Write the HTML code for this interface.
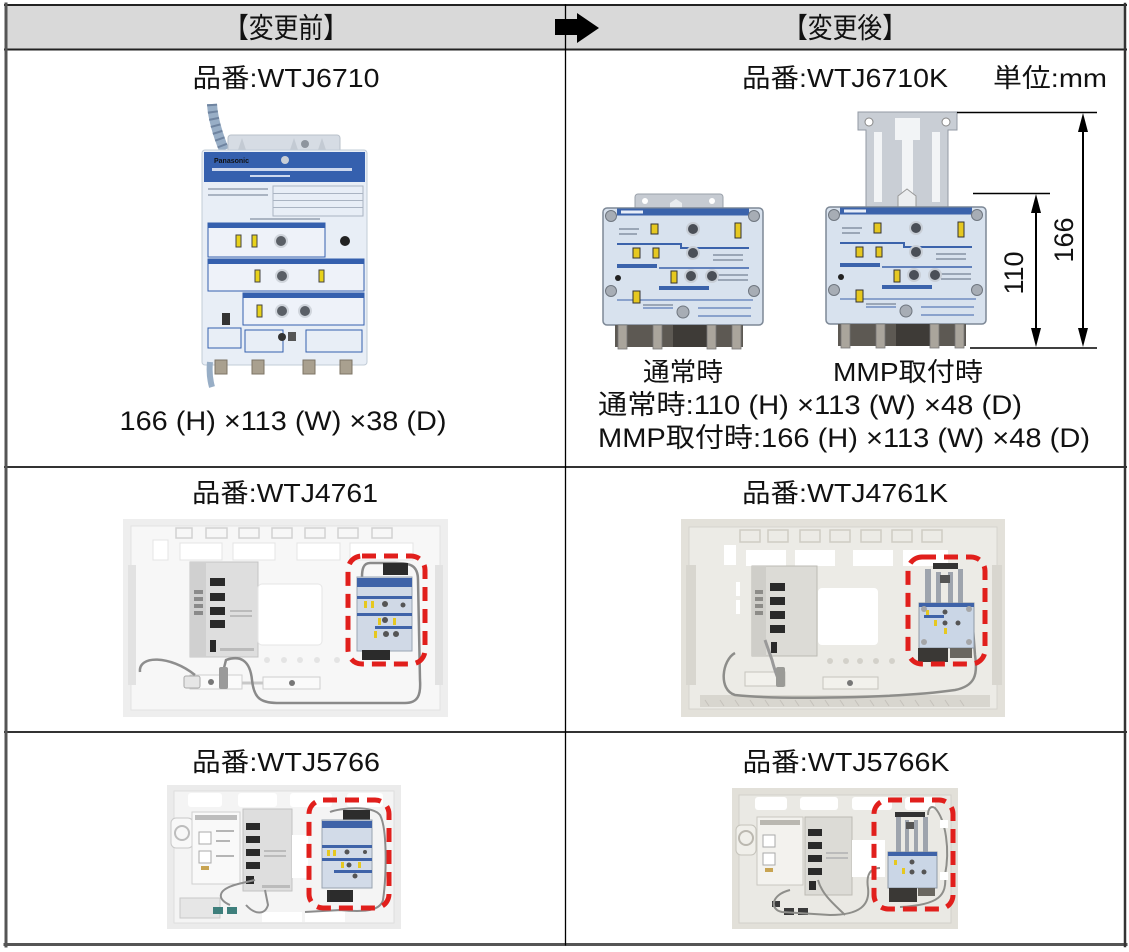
<!DOCTYPE html>
<html><head><meta charset="utf-8">
<style>
html,body{margin:0;padding:0;background:#fff;}
svg{display:block;}
text{font-family:"Liberation Sans","Noto Sans CJK JP",sans-serif;fill:#111;}
</style></head><body>
<svg width="1129" height="952" viewBox="0 0 1129 952" xmlns="http://www.w3.org/2000/svg">
<defs>
 <g id="ampface">
  <rect x="0" y="0" width="160" height="117" rx="4" fill="#d8e2ee" stroke="#7d8896" stroke-width="1.5"/>
  <rect x="14" y="0.5" width="132" height="7" fill="#3b63ab"/>
  <rect x="18" y="2.5" width="22" height="3" fill="#e8eef8"/>
  <path d="M14 36 H78 V40 H146" stroke="#3b63ab" stroke-width="2" fill="none"/>
  <rect x="14" y="56" width="40" height="4" fill="#3b63ab"/>
  <path d="M56 60 H146" stroke="#3b63ab" stroke-width="1.5" fill="none"/>
  <rect x="56" y="78" width="50" height="4" fill="#3b63ab"/>
  <path d="M14 92 H150 M40 100 H70 M95 100 H148 M95 108 H148" stroke="#3b63ab" stroke-width="1" fill="none"/>
  <g fill="#9aa6b6"><rect x="16" y="20" width="20" height="2"/><rect x="16" y="25" width="18" height="2"/><rect x="110" y="46" width="30" height="2"/><rect x="110" y="51" width="30" height="2"/><rect x="115" y="66" width="30" height="2"/><rect x="115" y="71" width="30" height="2"/><rect x="40" y="96" width="30" height="2"/></g>
  <g fill="#e6c820" stroke="#333" stroke-width="1">
   <rect x="48" y="16" width="7" height="10"/><rect x="132" y="15" width="6" height="15"/>
   <rect x="30" y="40" width="7" height="10"/><rect x="50" y="40" width="6" height="10"/>
   <rect x="68" y="63" width="6" height="12"/><rect x="30" y="83" width="7" height="12"/>
  </g>
  <g fill="#4a4f57" stroke="#c8ced6" stroke-width="2">
   <circle cx="90" cy="21" r="6"/><circle cx="90" cy="45" r="6"/><circle cx="88" cy="68" r="6"/><circle cx="109" cy="68" r="6"/>
  </g>
  <circle cx="15" cy="70" r="3" fill="#222"/>
  <g fill="#a7adb5" stroke="#6f767f" stroke-width="1">
   <circle cx="8" cy="8" r="5.5"/><circle cx="151" cy="8" r="5.5"/><circle cx="8" cy="83" r="5.5"/><circle cx="151" cy="83" r="5.5"/><circle cx="80" cy="104" r="6"/>
  </g>
  <rect x="12" y="117" width="128" height="22" fill="#5d5953"/>
  <rect x="70" y="117" width="40" height="22" fill="#3e3b37"/>
  <g fill="#aaa59c" stroke="#777" stroke-width="0.8">
   <rect x="15" y="117" width="9" height="24"/><rect x="50" y="117" width="9" height="24"/><rect x="104" y="117" width="9" height="24"/><rect x="129" y="117" width="9" height="24"/>
  </g>
 </g>
</defs>

<rect x="0" y="0" width="1129" height="952" fill="#fff"/>

<!-- header -->
<rect x="6" y="5" width="1119" height="44" fill="#d9d9d9"/>
<text x="286" y="28" font-size="28" text-anchor="middle" dominant-baseline="central" textLength="124" lengthAdjust="spacingAndGlyphs">【変更前】</text>
<text x="845" y="28" font-size="28" text-anchor="middle" dominant-baseline="central" textLength="124" lengthAdjust="spacingAndGlyphs">【変更後】</text>

<!-- table lines -->
<g stroke-linecap="square">
 <line x1="5" y1="5" x2="1126" y2="5" stroke="#222" stroke-width="2"/>
 <line x1="5" y1="49.5" x2="1126" y2="49.5" stroke="#222" stroke-width="2"/>
 <line x1="5" y1="467" x2="1126" y2="467" stroke="#333" stroke-width="2"/>
 <line x1="5" y1="732" x2="1126" y2="732" stroke="#333" stroke-width="2"/>
 <line x1="5" y1="944.5" x2="1126" y2="944.5" stroke="#555" stroke-width="3"/>
 <line x1="6" y1="4" x2="6" y2="946" stroke="#555" stroke-width="3"/>
 <line x1="1125" y1="4" x2="1125" y2="946" stroke="#333" stroke-width="2.5"/>
 <line x1="565.5" y1="5" x2="565.5" y2="945" stroke="#000" stroke-width="1.3"/>
</g>

<!-- arrow -->
<path d="M555 19 H577 V13 L599 28 L577 43 V35 H555 Z" fill="#000"/>

<!-- ROW 1 texts -->
<text x="286" y="78" font-size="26" text-anchor="middle" dominant-baseline="central" textLength="187" lengthAdjust="spacingAndGlyphs">品番:WTJ6710</text>
<text x="283" y="421" font-size="27" text-anchor="middle" dominant-baseline="central" textLength="327" lengthAdjust="spacingAndGlyphs">166 (H) ×113 (W) ×38 (D)</text>
<text x="845" y="78" font-size="26" text-anchor="middle" dominant-baseline="central" textLength="206" lengthAdjust="spacingAndGlyphs">品番:WTJ6710K</text>
<text x="1050" y="78" font-size="26" text-anchor="middle" dominant-baseline="central" textLength="114" lengthAdjust="spacingAndGlyphs">単位:mm</text>
<text x="683" y="372" font-size="26" text-anchor="middle" dominant-baseline="central" textLength="80" lengthAdjust="spacingAndGlyphs">通常時</text>
<text x="908" y="372" font-size="26" text-anchor="middle" dominant-baseline="central" textLength="150" lengthAdjust="spacingAndGlyphs">MMP取付時</text>
<text x="598" y="405" font-size="27" dominant-baseline="central" textLength="424" lengthAdjust="spacingAndGlyphs">通常時:110 (H) ×113 (W) ×48 (D)</text>
<text x="598" y="438" font-size="27" dominant-baseline="central" textLength="492" lengthAdjust="spacingAndGlyphs">MMP取付時:166 (H) ×113 (W) ×48 (D)</text>

<!-- ROW 1 left device -->
<g>
 <path d="M212 104 C213 120 218 135 224 150" stroke="#98aec6" stroke-width="10" fill="none"/>
 <path d="M212 104 C213 120 218 135 224 150" stroke="#6f84a0" stroke-width="10" fill="none" stroke-dasharray="2 5"/>
 <rect x="228" y="135" width="112" height="18" rx="3" fill="#d6dce4" stroke="#b8c0ca"/>
 <g fill="#c3cad3"><path d="M238 150 L242 138 L246 150Z"/><path d="M290 150 L294 138 L298 150Z"/><path d="M318 150 L322 138 L326 150Z"/></g>
 <circle cx="305" cy="144" r="4" fill="#8e959e"/>
 <rect x="202" y="150" width="165" height="215" rx="3" fill="#e8eef6" stroke="#c2ccd7"/>
 <rect x="204" y="152" width="161" height="30" fill="#3560ae"/>
 <text x="214" y="163" font-size="7" font-weight="bold" fill="#fff">Panasonic</text>
 <circle cx="285" cy="160" r="4" fill="#c9ced6"/>
 <rect x="212" y="168" width="140" height="3" fill="#cdd8ee"/>
 <rect x="250" y="175" width="40" height="2" fill="#cdd8ee"/>
 <g fill="#aab4c2"><rect x="208" y="188" width="60" height="2"/><rect x="208" y="194" width="60" height="2"/><rect x="273" y="186" width="90" height="30" fill="none" stroke="#aab4c2"/><rect x="273" y="193" width="90" height="1"/><rect x="273" y="200" width="90" height="1"/><rect x="273" y="207" width="90" height="1"/><rect x="250" y="218" width="70" height="2"/></g>
 <rect x="208" y="223" width="117" height="34" fill="#eef2f9" stroke="#3560ae"/>
 <rect x="208" y="223" width="117" height="5" fill="#3560ae"/>
 <rect x="208" y="259" width="156" height="32" fill="#eef2f9" stroke="#3560ae"/>
 <rect x="208" y="259" width="156" height="5" fill="#3560ae"/>
 <rect x="243" y="293" width="121" height="32" fill="#eef2f9" stroke="#3560ae"/>
 <rect x="243" y="293" width="121" height="5" fill="#3560ae"/>
 <g fill="#e8d21a" stroke="#444" stroke-width="1">
  <rect x="236" y="235" width="5" height="12"/><rect x="252" y="235" width="5" height="12"/>
  <rect x="255" y="270" width="5" height="12"/><rect x="319" y="270" width="5" height="12"/>
  <rect x="257" y="305" width="5" height="12"/>
 </g>
 <g fill="#5a5f66" stroke="#d0d5dc" stroke-width="2">
  <circle cx="281" cy="241" r="6"/><circle cx="282" cy="276" r="6"/><circle cx="282" cy="311" r="6"/><circle cx="305" cy="311" r="6"/>
 </g>
 <circle cx="345" cy="241" r="5" fill="#222"/>
 <rect x="222" y="313" width="8" height="12" fill="#333"/>
 <rect x="208" y="328" width="33" height="20" fill="none" stroke="#3560ae"/>
 <rect x="245" y="330" width="38" height="22" fill="none" stroke="#3560ae"/>
 <circle cx="282" cy="337" r="4" fill="#333"/>
 <rect x="288" y="332" width="8" height="9" fill="#555"/>
 <rect x="306" y="330" width="56" height="22" fill="none" stroke="#3560ae"/>
 <g fill="#a9a08f" stroke="#7d7466"><rect x="215" y="360" width="12" height="14"/><rect x="252" y="360" width="12" height="14"/><rect x="303" y="360" width="12" height="14"/><rect x="340" y="360" width="12" height="14"/></g>
 <path d="M210 362 C209 372 210 380 212 387" stroke="#98aec6" stroke-width="6" fill="none"/>
</g>

<!-- ROW 1 right devices -->
<g>
 <rect x="635" y="194" width="88" height="18" rx="3" fill="#c6cbd2" stroke="#9aa1aa"/>
 <circle cx="645" cy="201" r="3" fill="#fff"/><circle cx="712" cy="201" r="3" fill="#fff"/>
 <path d="M670 212 V203 L676 199 L682 203 V212" fill="#e9ecef"/>
 <use href="#ampface" transform="translate(603,208)"/>
</g>
<g>
 <path d="M858 112 H957 V130 H948 V207 H866 V130 H858 Z" fill="#c9ced5" stroke="#939aa4"/>
 <circle cx="869" cy="122" r="4" fill="#fff" stroke="#888"/><circle cx="946" cy="122" r="4" fill="#fff" stroke="#888"/>
 <rect x="874" y="132" width="8" height="70" fill="#f2f4f6"/>
 <rect x="932" y="132" width="8" height="70" fill="#f2f4f6"/>
 <path d="M895 118 H920 V140 H913 V200 H902 V140 H895 Z" fill="#f2f4f6"/>
 <path d="M898 207 V196 L907 189 L916 196 V207" fill="#eceef0" stroke="#999"/>
 <use href="#ampface" transform="translate(826,207)"/>
</g>
<!-- dimension lines -->
<g stroke="#000">
 <line x1="957" y1="112.5" x2="1097" y2="112.5" stroke-width="1.5"/>
 <line x1="970" y1="348" x2="1097" y2="348" stroke-width="1.5"/>
 <line x1="973" y1="193.5" x2="1050" y2="193.5" stroke-width="1.5"/>
 <line x1="1083" y1="125" x2="1083" y2="335" stroke-width="2"/>
 <line x1="1036" y1="206" x2="1036" y2="335" stroke-width="2"/>
</g>
<g fill="#000">
 <path d="M1083 113 L1078 132 L1088 132 Z"/><path d="M1083 347 L1078 328 L1088 328 Z"/>
 <path d="M1036 194 L1031 213 L1041 213 Z"/><path d="M1036 347 L1031 328 L1041 328 Z"/>
</g>
<text x="0" y="0" font-size="27" text-anchor="middle" dominant-baseline="central" transform="translate(1064,240) rotate(-90)">166</text>
<text x="0" y="0" font-size="27" text-anchor="middle" dominant-baseline="central" transform="translate(1014,273) rotate(-90)">110</text>

<!-- ROW 2 texts -->
<text x="285" y="493" font-size="26" text-anchor="middle" dominant-baseline="central" textLength="186" lengthAdjust="spacingAndGlyphs">品番:WTJ4761</text>
<text x="845" y="493" font-size="26" text-anchor="middle" dominant-baseline="central" textLength="206" lengthAdjust="spacingAndGlyphs">品番:WTJ4761K</text>

<!-- ROW 2 left cabinet -->
<g>
 <rect x="123" y="519" width="325" height="198" fill="#eeeeee"/>
 <rect x="131" y="526" width="309" height="184" fill="#f7f7f7" stroke="#e3e3e3"/>
 <g fill="none" stroke="#d2d2d2" stroke-width="1.5">
  <rect x="176" y="528" width="16" height="10"/><rect x="206" y="528" width="21" height="10"/><rect x="239" y="528" width="20" height="10"/><rect x="272" y="528" width="20" height="10"/><rect x="305" y="528" width="20" height="10"/><rect x="338" y="528" width="20" height="10"/><rect x="372" y="528" width="20" height="10"/>
 </g>
 <g fill="#ffffff" stroke="#e4e4e4"><rect x="153" y="540" width="15" height="20"/><rect x="180" y="543" width="42" height="17"/><rect x="233" y="543" width="42" height="17"/><rect x="297" y="543" width="43" height="17"/><rect x="350" y="543" width="63" height="17"/></g>
 <g fill="#e2e2e2"><rect x="128" y="565" width="8" height="120"/><rect x="435" y="565" width="8" height="120"/></g>
 <rect x="190" y="562" width="68" height="95" fill="#dedede" stroke="#c4c4c4"/>
 <rect x="190" y="562" width="16" height="95" fill="#d0d0d0"/>
 <g fill="#8a8a8a"><rect x="194" y="590" width="9" height="4"/><rect x="194" y="597" width="9" height="4"/><rect x="194" y="604" width="9" height="4"/><rect x="194" y="611" width="9" height="4"/></g>
 <g fill="#2a2a2a"><rect x="210" y="578" width="15" height="8"/><rect x="210" y="593" width="15" height="8"/><rect x="210" y="607" width="15" height="8"/><rect x="210" y="620" width="15" height="8"/><rect x="210" y="640" width="6" height="12"/></g>
 <g fill="#bbb"><rect x="230" y="610" width="22" height="2"/><rect x="230" y="615" width="22" height="2"/><rect x="220" y="648" width="34" height="3"/></g>
 <rect x="258" y="584" width="64" height="61" rx="4" fill="#ffffff" stroke="#e6e6e6"/>
 <g fill="#e4e4e4"><circle cx="267" cy="660" r="3"/><circle cx="284" cy="660" r="3"/><circle cx="300" cy="660" r="3"/><circle cx="317" cy="660" r="3"/><circle cx="337" cy="660" r="3"/></g>
 <rect x="190" y="675" width="52" height="14" fill="#fafafa" stroke="#cfcfcf"/>
 <rect x="263" y="677" width="57" height="12" fill="#fafafa" stroke="#cfcfcf"/>
 <circle cx="292" cy="683" r="3" fill="#777"/><circle cx="211" cy="682" r="3" fill="#777"/>
 <line x1="242" y1="683" x2="263" y2="683" stroke="#c8c8c8" stroke-width="3"/>
 <path d="M140 672 C138 655 170 655 195 675" stroke="#8e8e8e" stroke-width="2.5" fill="none"/>
 <rect x="184" y="676" width="16" height="12" rx="2" fill="#e6e6e6" stroke="#aaa"/>
 <path d="M224 668 L226 660 C240 655 250 660 252 680 C254 700 262 703 280 703 L405 703 C418 703 421 695 420 680 L418 580 C418 565 410 563 395 563 L370 563 C363 563 362 570 362 577" stroke="#8a8a8a" stroke-width="2.5" fill="none"/>
 <rect x="219" y="667" width="9" height="22" rx="2" fill="#9a9a9a"/>
 <rect x="357" y="577" width="55" height="74" fill="#d0d9e6" stroke="#9aa5b3"/>
 <rect x="357" y="578" width="55" height="9" fill="#3f63a8"/>
 <rect x="357" y="596" width="55" height="3" fill="#3f63a8"/>
 <rect x="357" y="613" width="55" height="3" fill="#3f63a8"/>
 <rect x="375" y="626" width="37" height="3" fill="#3f63a8"/>
 <g fill="#e6c820"><rect x="364" y="601" width="3" height="7"/><rect x="371" y="601" width="3" height="7"/><rect x="378" y="618" width="3" height="7"/><rect x="393" y="618" width="3" height="7"/><rect x="374" y="631" width="3" height="7"/></g>
 <g fill="#555"><circle cx="385" cy="604" r="3"/><circle cx="385" cy="620" r="3"/><circle cx="386" cy="634" r="3"/><circle cx="396" cy="634" r="3"/><circle cx="403" cy="605" r="2.5"/></g>
 <rect x="383" y="563" width="25" height="12" fill="#2b2b2b"/>
 <rect x="362" y="650" width="28" height="10" fill="#2b2b2b"/>
 <rect x="348" y="556" width="77" height="108" rx="14" fill="none" stroke="#e11f1c" stroke-width="5" stroke-dasharray="14 8"/>
</g>

<!-- ROW 2 right cabinet -->
<g>
 <rect x="681" y="519" width="324" height="198" fill="#e3e1da"/>
 <rect x="689" y="527" width="308" height="182" fill="#ecebe6" stroke="#d6d4cd"/>
 <g fill="none" stroke="#cfccc4" stroke-width="1.5">
  <rect x="740" y="530" width="20" height="12"/><rect x="768" y="530" width="20" height="12"/><rect x="800" y="530" width="20" height="12"/><rect x="830" y="530" width="20" height="12"/><rect x="861" y="530" width="20" height="12"/><rect x="892" y="530" width="20" height="12"/><rect x="922" y="530" width="20" height="12"/>
 </g>
 <g fill="#ffffff"><rect x="724" y="545" width="12" height="20"/><rect x="746" y="550" width="40" height="16"/><rect x="795" y="550" width="40" height="16"/><rect x="853" y="550" width="40" height="16"/><rect x="903" y="550" width="45" height="16"/></g>
 <g fill="#d8d6cf"><rect x="686" y="565" width="10" height="120"/><rect x="992" y="565" width="10" height="120"/><rect x="700" y="695" width="290" height="12"/></g>
 <g stroke="#c5c2ba" stroke-width="1"><path d="M705 700 l4 6 M720 700 l4 6 M735 700 l4 6 M750 700 l4 6 M765 700 l4 6 M780 700 l4 6 M795 700 l4 6 M810 700 l4 6 M825 700 l4 6 M840 700 l4 6 M855 700 l4 6 M870 700 l4 6 M885 700 l4 6 M900 700 l4 6 M915 700 l4 6 M930 700 l4 6 M945 700 l4 6 M960 700 l4 6"/></g>
 <g fill="#ffffff"><rect x="736" y="582" width="4" height="14"/><rect x="736" y="600" width="4" height="14"/><rect x="756" y="582" width="4" height="14"/></g>
 <rect x="752" y="566" width="65" height="90" fill="#dcdbd6" stroke="#bdbbb4"/>
 <rect x="752" y="566" width="14" height="90" fill="#cfcec9"/>
 <g fill="#2a2a2a"><rect x="770" y="583" width="15" height="8"/><rect x="770" y="597" width="15" height="8"/><rect x="770" y="611" width="15" height="8"/><rect x="770" y="625" width="15" height="8"/><rect x="771" y="642" width="6" height="11"/></g>
 <g fill="#8d8c88"><rect x="755" y="590" width="8" height="4"/><rect x="755" y="597" width="8" height="4"/><rect x="755" y="604" width="8" height="4"/><rect x="755" y="611" width="8" height="4"/></g>
 <rect x="818" y="588" width="60" height="57" rx="4" fill="#ffffff"/>
 <g fill="#d3d1ca"><circle cx="830" cy="661" r="3"/><circle cx="846" cy="661" r="3"/><circle cx="860" cy="661" r="3"/><circle cx="876" cy="661" r="3"/><circle cx="892" cy="661" r="3"/></g>
 <rect x="745" y="672" width="40" height="14" fill="#f2f1ec" stroke="#c6c4bd"/>
 <rect x="823" y="677" width="55" height="12" fill="#f2f1ec" stroke="#c6c4bd"/>
 <circle cx="850" cy="683" r="3" fill="#777"/>
 <path d="M735 653 C722 660 718 690 735 695 C780 700 900 698 955 690 C975 686 978 675 975 655 L972 615" stroke="#8d8d8a" stroke-width="2.5" fill="none"/>
 <path d="M765 640 L772 660 C775 672 778 678 780 684" stroke="#999" stroke-width="3" fill="none"/>
 <rect x="776" y="667" width="9" height="20" rx="2" fill="#9a9a96"/>
 <rect x="933" y="563" width="25" height="6" fill="#333"/>
 <g fill="#9ea4ad"><rect x="925" y="569" width="6" height="36"/><rect x="936" y="572" width="5" height="33"/><rect x="948" y="572" width="5" height="33"/><rect x="958" y="569" width="5" height="36"/></g>
 <rect x="940" y="575" width="10" height="8" fill="#555"/>
 <rect x="919" y="603" width="55" height="45" fill="#cad6e6" stroke="#8f99a6"/>
 <rect x="919" y="603" width="55" height="4" fill="#3f63a8"/>
 <rect x="924" y="615" width="20" height="3" fill="#3f63a8"/>
 <g fill="#e6c820"><rect x="926" y="610" width="3" height="5"/><rect x="934" y="620" width="3" height="6"/><rect x="944" y="628" width="3" height="6"/></g>
 <g fill="#555"><circle cx="945" cy="612" r="2.5"/><circle cx="945" cy="623" r="2.5"/><circle cx="958" cy="623" r="2.5"/></g>
 <g fill="#a5a6a8"><circle cx="924" cy="609" r="3"/><circle cx="969" cy="609" r="3"/><circle cx="924" cy="642" r="3"/><circle cx="969" cy="642" r="3"/></g>
 <rect x="918" y="648" width="30" height="14" fill="#3a3835"/>
 <rect x="950" y="648" width="22" height="10" fill="#6a6760"/>
 <rect x="908" y="557" width="77" height="107" rx="14" fill="none" stroke="#e11f1c" stroke-width="5" stroke-dasharray="14 8"/>
</g>

<!-- ROW 3 texts -->
<text x="286" y="762" font-size="26" text-anchor="middle" dominant-baseline="central" textLength="188" lengthAdjust="spacingAndGlyphs">品番:WTJ5766</text>
<text x="846" y="762" font-size="26" text-anchor="middle" dominant-baseline="central" textLength="207" lengthAdjust="spacingAndGlyphs">品番:WTJ5766K</text>

<!-- ROW 3 left cabinet -->
<g>
 <rect x="167" y="785" width="234" height="144" fill="#ebebeb"/>
 <rect x="174" y="791" width="220" height="132" fill="#f4f4f4" stroke="#dedede"/>
 <g fill="#ffffff"><rect x="188" y="793" width="34" height="14" rx="3"/><rect x="238" y="793" width="39" height="14" rx="3"/><rect x="290" y="793" width="42" height="14" rx="3"/><rect x="347" y="793" width="36" height="14" rx="3"/></g>
 <rect x="171" y="818" width="22" height="30" rx="5" fill="#f8f8f8" stroke="#c9c9c9"/>
 <circle cx="182" cy="833" r="7" fill="none" stroke="#bdbdbd" stroke-width="2"/>
 <rect x="192" y="812" width="48" height="72" fill="#f9f9f9" stroke="#cfcfcf"/>
 <rect x="195" y="815" width="42" height="5" fill="#bdbdbd"/>
 <rect x="199" y="832" width="12" height="12" fill="#fff" stroke="#aaa"/><rect x="199" y="851" width="12" height="12" fill="#fff" stroke="#aaa"/>
 <rect x="201" y="866" width="8" height="4" fill="#c8a452"/>
 <g fill="#b5b5b5"><rect x="216" y="830" width="18" height="2"/><rect x="216" y="840" width="14" height="2"/><rect x="216" y="855" width="18" height="2"/></g>
 <rect x="243" y="809" width="49" height="82" fill="#dedede" stroke="#c2c2c2"/>
 <g fill="#2a2a2a"><rect x="246" y="823" width="14" height="7"/><rect x="246" y="836" width="14" height="7"/><rect x="246" y="849" width="14" height="7"/><rect x="246" y="862" width="14" height="7"/><rect x="246" y="876" width="8" height="8"/></g>
 <g fill="#bbb"><rect x="264" y="850" width="22" height="2"/><rect x="264" y="855" width="22" height="2"/><rect x="262" y="885" width="28" height="3"/></g>
 <rect x="292" y="835" width="16" height="43" fill="#ffffff"/>
 <rect x="180" y="898" width="40" height="20" fill="#e6e6e6" stroke="#c8c8c8"/>
 <g fill="#3e7f7c"><rect x="213" y="907" width="10" height="7"/><rect x="227" y="907" width="10" height="7"/></g>
 <rect x="262" y="912" width="40" height="10" fill="#fff"/>
 <rect x="305" y="912" width="40" height="10" fill="#fff"/>
 <path d="M230 905 C218 900 215 890 238 884 L255 880" stroke="#8e8e8e" stroke-width="2" fill="none"/>
 <path d="M246 905 C255 915 265 915 268 905 L265 890" stroke="#8e8e8e" stroke-width="2" fill="none"/>
 <path d="M330 812 C340 808 372 805 380 815 C388 830 386 880 383 900 C380 912 360 912 340 910 L305 912" stroke="#8c8c8c" stroke-width="2" fill="none"/>
 <rect x="343" y="810" width="27" height="10" fill="#2c2c2c"/>
 <rect x="322" y="820" width="50" height="68" fill="#d2dbe8" stroke="#99a3b1"/>
 <rect x="322" y="821" width="50" height="7" fill="#3f63a8"/>
 <rect x="322" y="845" width="50" height="3" fill="#3f63a8"/>
 <rect x="322" y="858" width="50" height="3" fill="#3f63a8"/>
 <rect x="334" y="870" width="38" height="3" fill="#3f63a8"/>
 <g fill="#e6c820"><rect x="327" y="850" width="3" height="6"/><rect x="333" y="850" width="3" height="6"/><rect x="341" y="862" width="3" height="6"/><rect x="358" y="862" width="3" height="6"/></g>
 <g fill="#555"><circle cx="347" cy="852" r="2.5"/><circle cx="349" cy="865" r="2.5"/><circle cx="365" cy="852" r="2"/><circle cx="355" cy="876" r="2.5"/></g>
 <rect x="327" y="890" width="26" height="12" fill="#2c2c2c"/>
 <rect x="309" y="800" width="80" height="108" rx="14" fill="none" stroke="#e11f1c" stroke-width="5" stroke-dasharray="14 8"/>
</g>

<!-- ROW 3 right cabinet -->
<g>
 <rect x="732" y="788" width="226" height="141" fill="#e2e0d9"/>
 <rect x="739" y="795" width="212" height="128" fill="#eae9e4" stroke="#d3d1ca"/>
 <g fill="#ffffff"><rect x="755" y="797" width="32" height="13" rx="3"/><rect x="800" y="797" width="38" height="13" rx="3"/><rect x="852" y="797" width="40" height="13" rx="3"/><rect x="905" y="797" width="30" height="13" rx="3"/></g>
 <rect x="736" y="825" width="20" height="30" rx="5" fill="#f0efea" stroke="#c5c3bb"/>
 <circle cx="746" cy="838" r="7" fill="none" stroke="#bbb8b0" stroke-width="2"/>
 <rect x="757" y="817" width="46" height="68" fill="#f3f2ee" stroke="#cac8c1"/>
 <rect x="760" y="820" width="40" height="5" fill="#bab8b1"/>
 <rect x="763" y="835" width="12" height="12" fill="#fff" stroke="#aaa"/><rect x="763" y="853" width="12" height="12" fill="#fff" stroke="#aaa"/>
 <rect x="765" y="868" width="8" height="4" fill="#c8a452"/>
 <rect x="805" y="817" width="47" height="78" fill="#dcdbd6" stroke="#bdbbb4"/>
 <g fill="#2a2a2a"><rect x="808" y="829" width="14" height="7"/><rect x="808" y="842" width="14" height="7"/><rect x="808" y="855" width="14" height="7"/><rect x="808" y="868" width="14" height="7"/><rect x="809" y="881" width="7" height="9"/></g>
 <g fill="#bbb"><rect x="826" y="852" width="22" height="2"/><rect x="826" y="857" width="22" height="2"/></g>
 <rect x="852" y="840" width="33" height="37" fill="#ffffff"/>
 <g fill="#3a3a3a"><rect x="772" y="901" width="8" height="6"/><rect x="784" y="908" width="10" height="7"/><rect x="798" y="908" width="10" height="7"/></g>
 <path d="M790 890 C770 895 770 910 782 912 L830 915 C860 915 870 905 868 888 C866 875 870 868 880 868" stroke="#8e8e8a" stroke-width="2" fill="none"/>
 <path d="M818 880 C822 895 835 905 845 915" stroke="#8e8e8a" stroke-width="2" fill="none"/>
 <path d="M945 875 C950 850 946 820 935 808 C930 805 928 810 928 815" stroke="#8e8e8a" stroke-width="2" fill="none"/>
 <path d="M945 875 C947 895 940 905 900 907" stroke="#8e8e8a" stroke-width="2" fill="none"/>
 <rect x="895" y="812" width="30" height="5" fill="#333"/>
 <g fill="#9ea4ad"><rect x="896" y="817" width="5" height="36"/><rect x="905" y="820" width="4" height="33"/><rect x="914" y="820" width="4" height="33"/><rect x="923" y="817" width="5" height="36"/></g>
 <rect x="906" y="822" width="8" height="7" fill="#555"/>
 <rect x="888" y="852" width="49" height="36" fill="#cad6e6" stroke="#8f99a6"/>
 <rect x="888" y="852" width="49" height="4" fill="#3f63a8"/>
 <g fill="#e6c820"><rect x="894" y="860" width="3" height="5"/><rect x="902" y="868" width="3" height="6"/></g>
 <g fill="#555"><circle cx="912" cy="862" r="2.5"/><circle cx="912" cy="872" r="2.5"/><circle cx="924" cy="872" r="2.5"/></g>
 <g fill="#fff"><rect x="940" y="820" width="8" height="8"/><rect x="940" y="872" width="8" height="8"/></g>
 <rect x="889" y="888" width="28" height="14" fill="#3a3835"/>
 <rect x="918" y="888" width="17" height="8" fill="#6a6760"/>
 <rect x="874" y="800" width="79" height="109" rx="14" fill="none" stroke="#e11f1c" stroke-width="5" stroke-dasharray="14 8"/>
</g>
</svg>
</body></html>
